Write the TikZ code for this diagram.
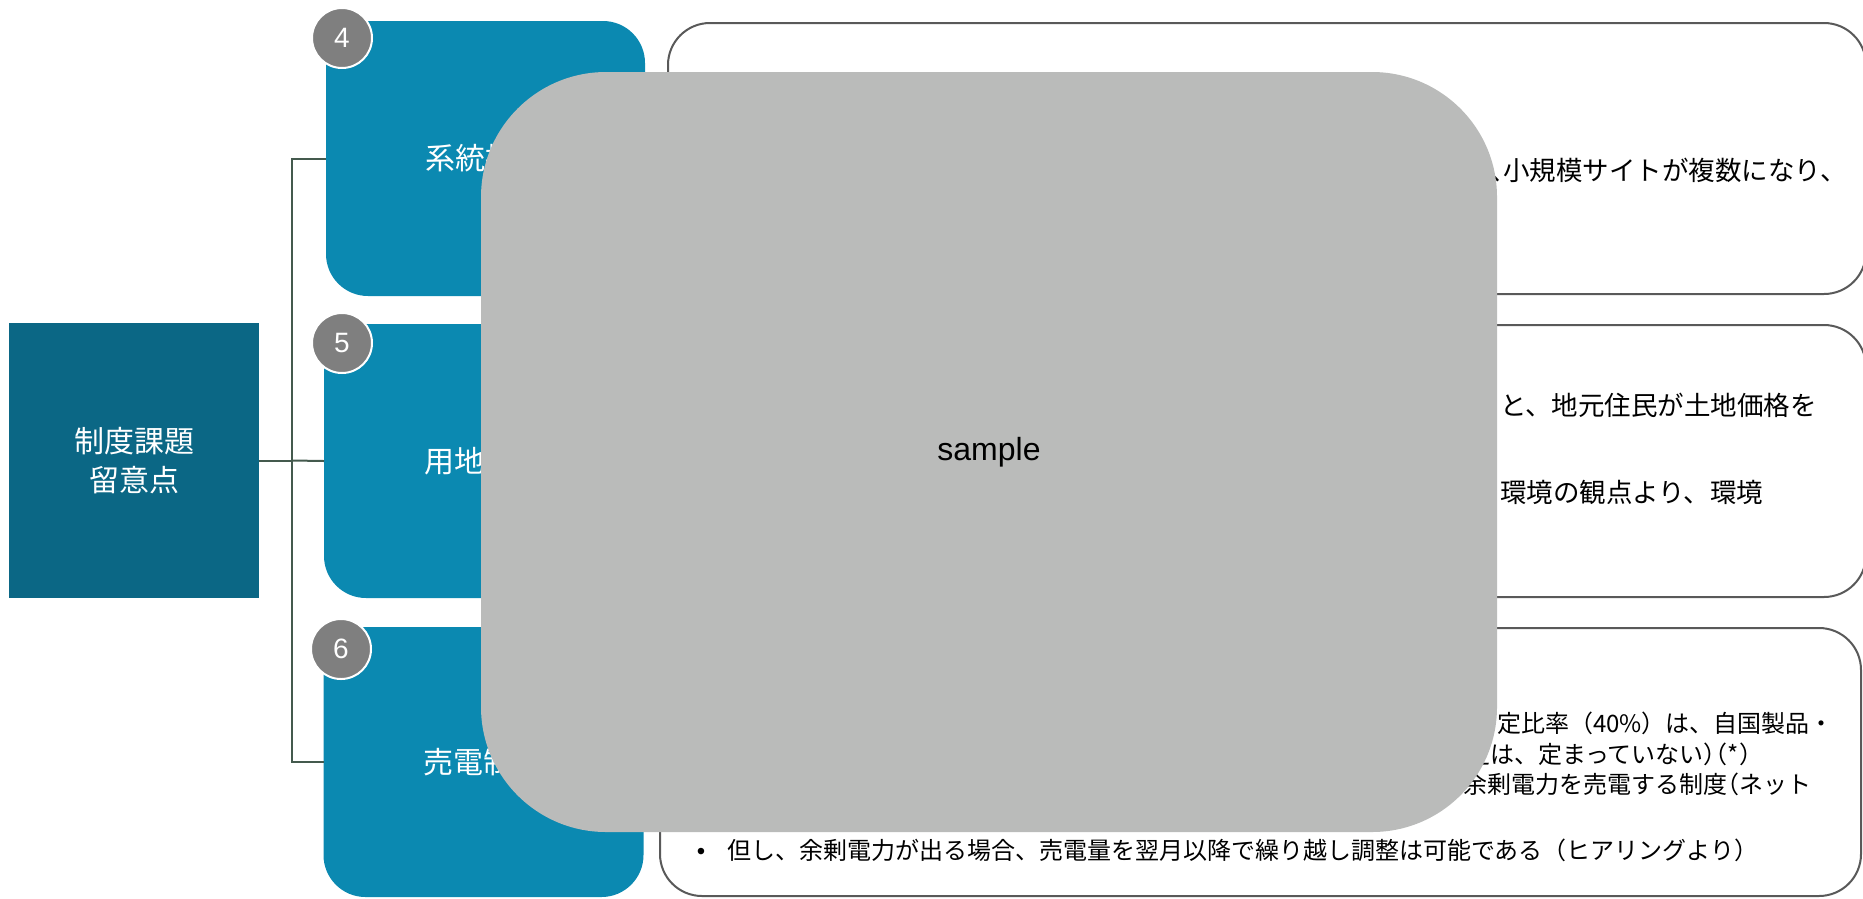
\documentclass[tikz,border=0pt]{standalone}
\usepackage{fontspec}
\setmainfont{Liberation Sans}
\newfontfamily\jp{Noto Sans CJK JP}
\newfontfamily\jph[RawFeature=+halt]{Noto Sans CJK JP}
\definecolor{centralteal}{RGB}{11,103,133}
\definecolor{topicblue}{RGB}{11,137,177}
\definecolor{badgegray}{RGB}{127,127,127}
\definecolor{samplegray}{RGB}{186,187,186}
\definecolor{linkgreen}{RGB}{68,90,78}
\definecolor{bordergray}{RGB}{89,89,89}
\tikzset{
  plain/.style={inner sep=0pt, outer sep=0pt},
  centralbox/.style={plain, fill=centralteal, text=white, align=center, font=\jp\fontsize{30}{39}\selectfont},
  topicbox/.style={plain, fill=topicblue, rounded corners=42pt, text=white, font=\jp\fontsize{30}{36}\selectfont},
  numbadge/.style={plain, circle, fill=badgegray, draw=white, line width=2pt, minimum size=60pt, text=white, font=\fontsize{28}{32}\selectfont},
  detailbox/.style={plain, draw=bordergray, line width=2pt, rounded corners=42pt, fill=white},
  linkline/.style={draw=linkgreen, line width=2pt},
  txtab/.style={plain, text=black, font=\jp\fontsize{26.5}{32}\selectfont},
  txtc/.style={plain, text=black, font=\jp\fontsize{24}{30}\selectfont},
  bulletmark/.style={plain, text=black, font=\fontsize{24}{30}\selectfont},
  samplebox/.style={plain, fill=samplegray, rounded corners=125pt, text=black, font=\fontsize{32}{38}\selectfont},
}
\begin{document}
\begin{tikzpicture}[x=1pt,y=-1pt]
\useasboundingbox (0,0) rectangle (1863,898);
\begin{scope}
\clip (0,0) rectangle (1863,898);
% central box
\node[centralbox, minimum width=250pt, minimum height=275pt] (c) at (134,460.5) {制度課題\\留意点};
% topic boxes
\node[topicbox, minimum width=319pt, minimum height=275pt] (t4) at (485.5,158.5) {系統接続};
\node[topicbox, minimum width=321pt, minimum height=274pt] (t5) at (484.5,461) {用地取得};
\node[topicbox, minimum width=320pt, minimum height=270pt] (t6) at (483.5,762) {売電制度};
% connectors
\coordinate (j) at (292,460.5);
\draw[linkline] (c.east) -- (j);
\draw[linkline] (j) |- (t4.west);
\draw[linkline] (j) |- (t6.west);
\draw[linkline] (j) -- (t5.west);
% number badges
\node[numbadge] (b4) at (342,38) {4};
\node[numbadge] (b5) at (342,343) {5};
\node[numbadge] (b6) at (341,649) {6};
% detail boxes
\node[detailbox, minimum width=1198pt, minimum height=271pt] (d4) at (1267,158.5) {};
\node[detailbox, minimum width=1198pt, minimum height=272pt] (d5) at (1267,461) {};
\node[detailbox, minimum width=1201pt, minimum height=268pt] (d6) at (1260.5,762) {};
% detail texts
\node[txtab, anchor=base west] (fa) at (1490,180) {{\jph 、}小規模サイトが複数になり、};
\node[txtab, anchor=base west] (fb1) at (1500,415) {と、地元住民が土地価格を};
\node[txtab, anchor=base west] (fb2) at (1500,502) {環境の観点より、環境};
\node[txtc, anchor=base west] (fc1) at (1497,732) {定比率（40\%）は、自国製品・};
\node[txtc, anchor=base west] (fc2) at (1466,763) {定は、定まっていない{\jph ）（}*{\jph ）}};
\node[txtc, anchor=base east] (fc3) at (1811,793) {余剰電力を売電する制度{\jph （}ネット};
\node[bulletmark, anchor=base] (bl) at (701,859) {•};
\node[txtc, anchor=base west] (fc4) at (727,859) {但し、余剰電力が出る場合、売電量を翌月以降で繰り越し調整は可能である（ヒアリングより）};
% overlay
\node[samplebox, minimum width=1016pt, minimum height=760pt] (s) at (989,452) {\raisebox{-3pt}{sample}};
\end{scope}
\end{tikzpicture}
\end{document}
